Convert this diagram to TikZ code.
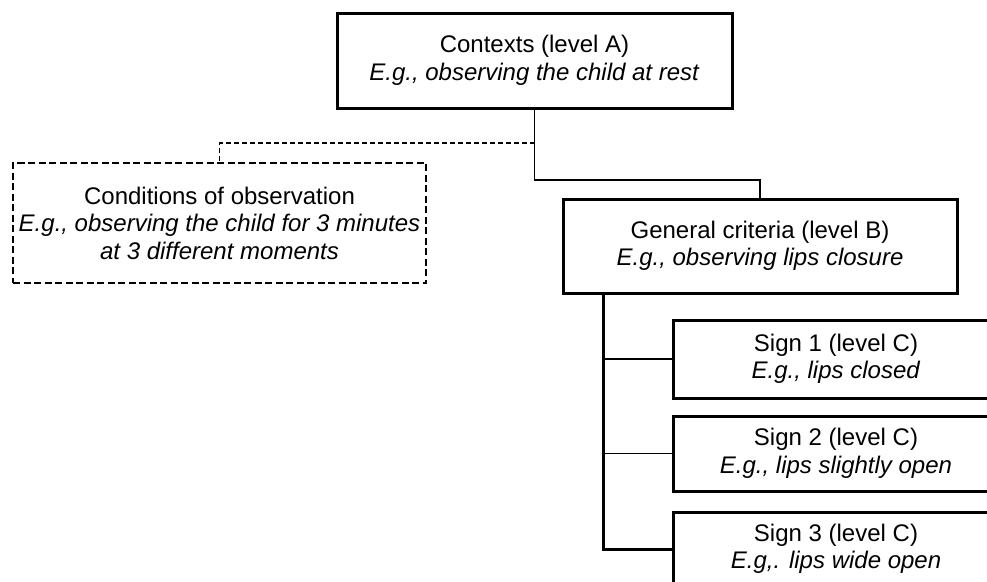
\documentclass[tikz,border=0pt]{standalone}
\usepackage{fontspec}
\setmainfont{Liberation Sans}
\begin{document}
\begin{tikzpicture}[x=1pt,y=-1pt,
  box/.style={draw=black,line width=3pt,fill=white,align=center,inner sep=0pt,
    font=\fontsize{24}{27.5}\selectfont},
  dbox/.style={box,line width=2.8pt,dash pattern=on 7pt off 3.5pt},
  thinline/.style={line width=1.2pt,black},
  thickline/.style={line width=3pt,black}]
\path[use as bounding box] (0,0) rectangle (987,581);
\clip (0,0) rectangle (987,581);
\node[box,minimum width=395pt,minimum height=95pt] (A) at (534.5,60.5)
  {Contexts (level A)\\\textit{E.g., observing the child at rest}};
\node[dbox,minimum width=413pt,minimum height=120pt] (Cond) at (219.5,223)
  {Conditions of observation\\\textit{E.g., observing the child for 3 minutes}\\\textit{at 3 different moments}};
\node[box,minimum width=394pt,minimum height=94pt] (B) at (760,246)
  {General criteria (level B)\\\textit{E.g., observing lips closure}};
\node[box,minimum width=326pt,minimum height=78pt] (S1) at (836,359)
  {Sign 1 (level C)\\\textit{E.g., lips closed}};
\node[box,minimum width=326pt,minimum height=75pt] (S2) at (836,453.5)
  {Sign 2 (level C)\\\textit{E.g., lips slightly open}};
\node[box,minimum width=326pt,minimum height=74pt] (S3) at (836,549)
  {Sign 3 (level C)\\\textit{E.g,. lips wide open}};
\coordinate (j1) at (534.5,180);
\coordinate (j2) at (534.5,143);
\coordinate (t) at (603,293);
\draw[thinline] (A.south) -- (j1) -| (B.north);
\draw[thinline,dash pattern=on 5pt off 3pt] (j2) -| (Cond.north);
\draw[thickline] (t) |- (S3.west);
\draw[thinline] (S1.west -| t) -- (S1.west);
\draw[thinline] (S2.west -| t) -- (S2.west);
\end{tikzpicture}
\end{document}
